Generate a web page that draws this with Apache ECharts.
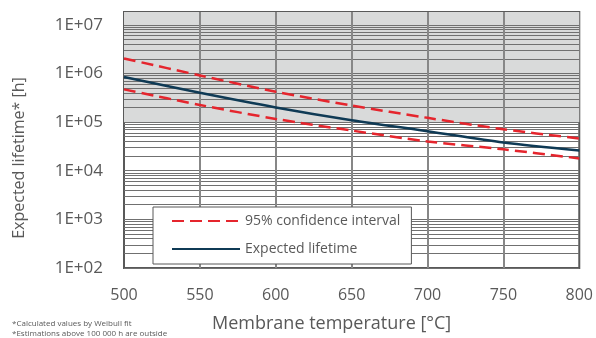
<!DOCTYPE html>
<html>
<head>
<meta charset="utf-8">
<script src="https://cdn.jsdelivr.net/npm/echarts@6/dist/echarts.min.js"></script>
<style>
  html, body { margin: 0; padding: 0; background: #fff; }
  #chart { width: 596px; height: 338px; }
</style>
</head>
<body>
<div id="chart"></div>
<script>
// temperatures (°C) and hours
const temps = [500, 550, 600, 650, 700, 750, 800];
const expected = [840000, 400000, 200000, 109000, 65000, 38000, 26000];
const upperCI = [2030000, 910000, 420000, 219000, 122000, 71000, 46000];
const lowerCI = [470000, 225000, 116000, 67000, 40000, 27500, 17900];

const xTicks = [550, 600, 650, 700, 750];
const yMin = 100;
const yMax = 18300000;
const shadeFrom = 100000;

const txt = "#595959";
const font = "Open Sans";

// horizontal lines: 1..9 x 10^n
const hLines = [];
for (let n = 2; n <= 6; n++) {
  for (let k = 1; k <= 9; k++) hLines.push(k * Math.pow(10, n));
}
hLines.push(1e7);

const pair = (ys) => temps.map((t, i) => [t, ys[i]]);

const chart = echarts.init(document.getElementById("chart"));
chart.setOption({
  animation: false,
  backgroundColor: "#fff",
  textStyle: { fontFamily: font },
  grid: {
    left: 124, right: 16, top: 12, bottom: 65,
    show: true, borderColor: "#595959", borderWidth: 2, backgroundColor: "#fff"
  },
  legend: {
    orient: "vertical",
    left: 153, top: 207,
    backgroundColor: "#fff",
    borderColor: "#595959",
    borderWidth: 1,
    borderRadius: 0,
    padding: [7, 11, 8, 18],
    itemWidth: 68, itemHeight: 14, itemGap: 14,
    itemStyle: { opacity: 0 },
    textStyle: { color: txt, fontSize: 14, fontFamily: font },
    data: ["95% confidence interval", "Expected lifetime"]
  },
  xAxis: {
    type: "value",
    min: 500, max: 800, interval: 50,
    name: "Membrane temperature [°C]",
    nameLocation: "middle",
    nameGap: 47,
    nameTextStyle: { color: txt, fontSize: 18, fontFamily: font, padding: [0, 40, 0, 0] },
    axisLine: { show: false },
    axisTick: { show: false },
    splitLine: { show: false },
    axisLabel: { color: txt, fontSize: 16, margin: 19, fontFamily: font }
  },
  yAxis: {
    type: "log",
    logBase: 10,
    min: yMin, max: yMax,
    name: "Expected lifetime* [h]",
    nameLocation: "middle",
    nameGap: 97,
    nameTextStyle: { color: txt, fontSize: 16, fontFamily: font, padding: [0, 36, 0, 0] },
    axisLine: { show: false },
    axisTick: { show: false },
    splitLine: { show: false },
    axisLabel: {
      color: txt, fontSize: 17, margin: 21, fontFamily: font,
      showMaxLabel: false,
      formatter: (v) => "1E+" + String(Math.round(Math.log10(v))).padStart(2, "0")
    }
  },
  graphic: [
    { type: "text", left: 12, top: 320, style: { text: "*Calculated values by Weibull fit", fill: txt, font: "8px 'Open Sans'" } },
    { type: "text", left: 12, top: 330, style: { text: "*Estimations above 100 000 h are outside", fill: txt, font: "8px 'Open Sans'" } }
  ],
  series: [
    {
      name: "Expected lifetime",
      type: "line",
      z: 5,
      smooth: 0.3,
      symbol: "none",
      data: pair(expected),
      lineStyle: { color: "#0f3a55", width: 2.5 },
      itemStyle: { color: "#0f3a55" },
      markArea: {
        silent: true,
        z: 1,
        itemStyle: { color: "#d9dada" },
        data: [[{ yAxis: shadeFrom }, { yAxis: yMax }]]
      },
      markLine: {
        silent: true,
        z: 2,
        symbol: "none",
        animation: false,
        label: { show: false },
        data: hLines.map((v) => ({ yAxis: v, lineStyle: { color: "#707070", width: 1, type: "solid" } }))
          .concat(xTicks.map((v) => ({ xAxis: v, lineStyle: { color: "#878787", width: 2, type: "solid" } })))
      }
    },
    {
      name: "95% confidence interval",
      type: "line",
      z: 6,
      smooth: 0.3,
      symbol: "none",
      data: pair(upperCI),
      lineStyle: { color: "#e5252d", width: 2.5, type: [12, 6] },
      itemStyle: { color: "#e5252d" }
    },
    {
      name: "95% confidence interval",
      type: "line",
      z: 6,
      smooth: 0.3,
      symbol: "none",
      data: pair(lowerCI),
      lineStyle: { color: "#e5252d", width: 2.5, type: [12, 6] },
      itemStyle: { color: "#e5252d" }
    }
  ]
});
</script>
</body>
</html>
